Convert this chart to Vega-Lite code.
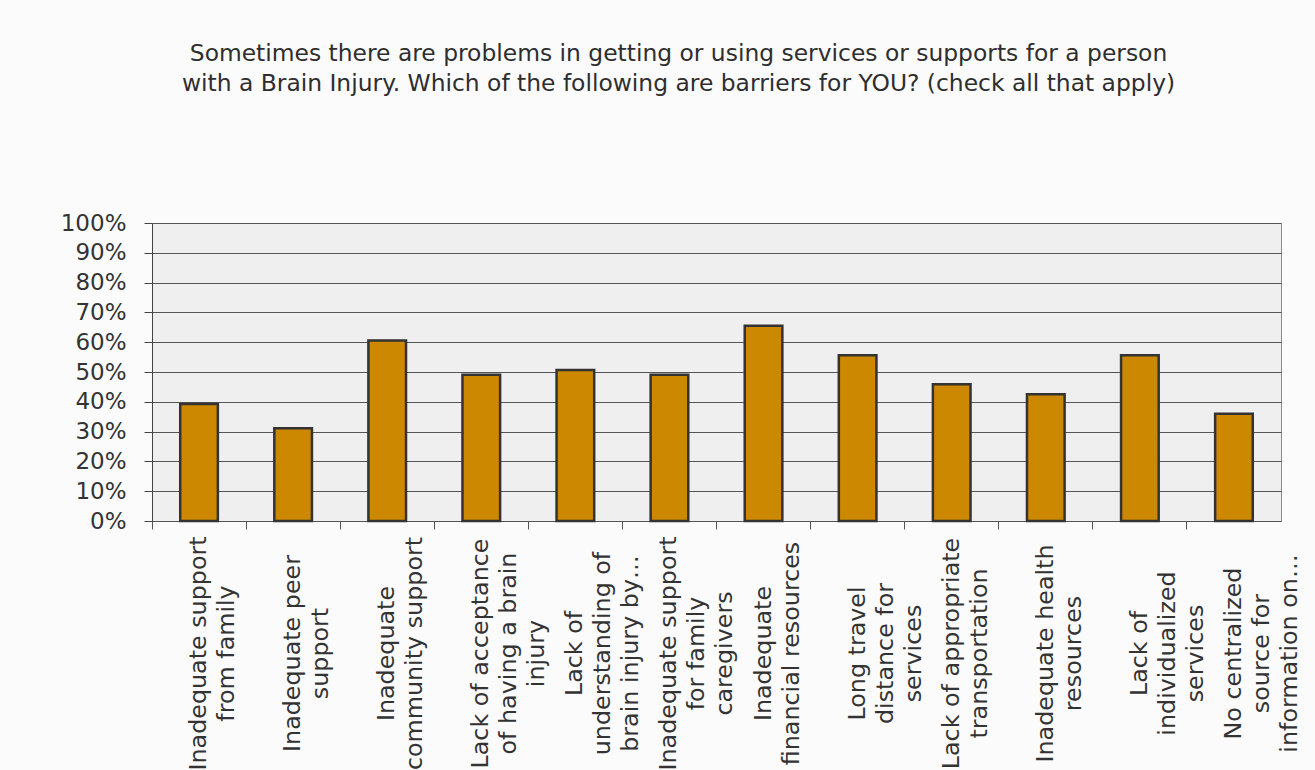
{
  "$schema": "https://vega.github.io/schema/vega-lite/v6.json",
  "width": 1129,
  "height": 298,
  "autosize": {"type": "none"},
  "padding": {"left": 152, "top": 223, "right": 34, "bottom": 249},
  "background": "#fbfbfb",
  "title": {
    "text": ["Sometimes there are problems in getting or using services or supports for a person", "with a Brain Injury. Which of the following are barriers for YOU? (check all that apply)"],
    "font": "DejaVu Sans",
    "fontSize": 23.4,
    "fontWeight": "normal",
    "color": "#2e2e2e",
    "lineHeight": 30,
    "anchor": "middle",
    "dx": -38,
    "offset": 116
  },
  "config": {
    "view": {"fill": "#efefef", "stroke": "#8a8a8a", "strokeWidth": 1},
    "axis": {"labelFont": "DejaVu Sans", "labelColor": "#333333"}
  },
  "data": {
    "values": [
      {"barrier": "Inadequate support|from family", "pct": 39.3},
      {"barrier": "Inadequate peer|support", "pct": 31.1},
      {"barrier": "Inadequate|community support", "pct": 60.6},
      {"barrier": "Lack of acceptance|of having a brain|injury", "pct": 49.1},
      {"barrier": "Lack of|understanding of|brain injury by…", "pct": 50.7},
      {"barrier": "Inadequate support|for family|caregivers", "pct": 49.1},
      {"barrier": "Inadequate|financial resources", "pct": 65.5},
      {"barrier": "Long travel|distance for|services", "pct": 55.6},
      {"barrier": "Lack of appropriate|transportation", "pct": 45.9},
      {"barrier": "Inadequate health|resources", "pct": 42.5},
      {"barrier": "Lack of|individualized|services", "pct": 55.6},
      {"barrier": "No centralized|source for|information on…", "pct": 36.0}
    ]
  },
  "encoding": {
    "y": {
      "field": "pct", "type": "quantitative",
      "scale": {"domain": [0, 100], "nice": false, "zero": true},
      "axis": {"title": null, "tickCount": 10, "labelExpr": "datum.value + '%'", "labelFontSize": 23, "labelOverlap": false, "labelFlush": false, "tickSize": 8, "tickColor": "#444444", "domainColor": "#444444", "gridColor": "#555555", "gridWidth": 1, "labelPadding": 18}
    }
  },
  "layer": [
    {
      "mark": {"type": "bar", "width": {"band": 0.4}, "fill": "#CC8800", "stroke": "#333333", "strokeWidth": 2.5},
      "encoding": {
        "x": {
          "field": "barrier", "type": "nominal", "sort": null,
          "scale": {"paddingInner": 0, "paddingOuter": 0},
          "axis": {"orient": "bottom", "title": null, "labels": false, "bandPosition": 0, "ticks": true, "tickSize": 8, "tickColor": "#555555", "domainColor": "#555555", "grid": false}
        }
      }
    },
    {
      "mark": {"type": "point", "opacity": 0},
      "encoding": {
        "x": {
          "field": "barrier", "type": "nominal", "sort": null,
          "axis": {"orient": "bottom", "title": null, "domain": false, "ticks": false, "grid": false, "labelAngle": -90, "labelAlign": "center", "labelBaseline": "middle", "labelFontSize": 23.8, "labelPadding": 132, "labelLineHeight": 28, "labelLimit": 0, "labelOverlap": false, "labelBound": false, "labelExpr": "split(datum.label, '|')"}
        }
      }
    }
  ],
  "resolve": {"axis": {"x": "independent"}}
}
